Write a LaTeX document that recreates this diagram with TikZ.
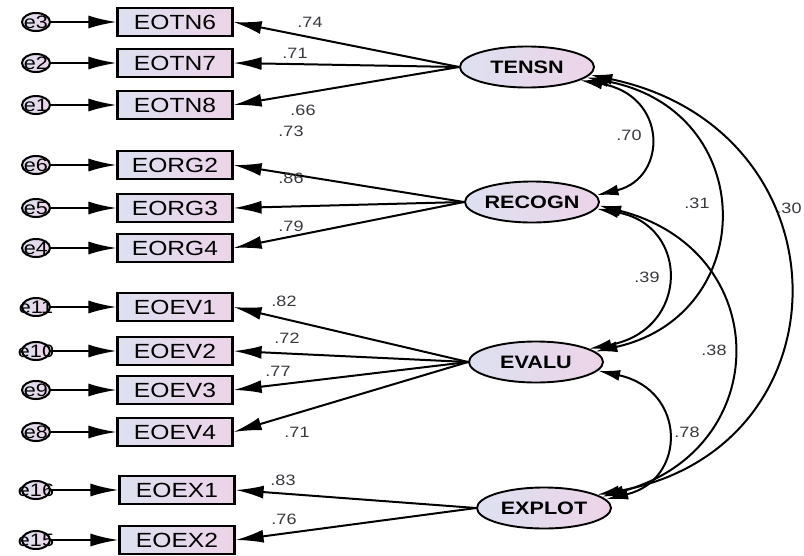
\documentclass[tikz,border=0pt]{standalone}
\usepackage{fontspec}
\setmainfont{Liberation Sans}[FakeStretch=1.2]
\usetikzlibrary{arrows.meta,shapes.geometric}
\definecolor{boxL}{HTML}{DDE1F0}
\definecolor{boxR}{HTML}{EDD3E8}
\definecolor{labc}{HTML}{38383F}
\begin{document}
\begin{tikzpicture}[x=1pt,y=-1pt,
 obs/.style={draw,line width=2.2pt,minimum width=115pt,minimum height=28pt,inner sep=0pt,left color=boxL,right color=boxR,font=\fontsize{20.5}{20}\selectfont},
 lat/.style={ellipse,draw,line width=1.9pt,minimum width=134pt,minimum height=41pt,inner sep=0pt,left color=boxL,right color=boxR,font=\fontsize{18}{18}\selectfont\bfseries},
 err/.style={ellipse,draw,line width=2pt,minimum width=28pt,minimum height=18pt,inner sep=0pt,left color=boxL,right color=boxR,font=\fontsize{18}{18}\selectfont},
 arr/.style={line width=2pt,-{Latex[length=28pt,width=13pt]}},
 cov/.style={line width=2pt,{Latex[length=22pt,width=11pt]}-{Latex[length=22pt,width=11pt]}},
 lab/.style={font=\fontsize{15}{15}\selectfont,text=labc,inner sep=0pt}
]
\useasboundingbox (0,0) rectangle (804,555);
% observed
\node[obs] (EOTN6) at (175,22) {EOTN6};
\node[obs] (EOTN7) at (175,63) {EOTN7};
\node[obs] (EOTN8) at (175,105) {EOTN8};
\node[obs] (EORG2) at (175,165) {EORG2};
\node[obs] (EORG3) at (175,208) {EORG3};
\node[obs] (EORG4) at (175,248) {EORG4};
\node[obs] (EOEV1) at (175,307) {EOEV1};
\node[obs] (EOEV2) at (175,351) {EOEV2};
\node[obs] (EOEV3) at (175,390) {EOEV3};
\node[obs] (EOEV4) at (175,432) {EOEV4};
\node[obs] (EOEX1) at (177,490) {EOEX1};
\node[obs] (EOEX2) at (177,540) {EOEX2};
% errors
\node[err] (e3) at (36,22) {\makebox[0pt]{e3}};
\node[err] (e2) at (36,63) {\makebox[0pt]{e2}};
\node[err] (e1) at (36,105) {\makebox[0pt]{e1}};
\node[err] (e6) at (36,165) {\makebox[0pt]{e6}};
\node[err] (e5) at (36,208) {\makebox[0pt]{e5}};
\node[err] (e4) at (36,248) {\makebox[0pt]{e4}};
\node[err] (e11) at (36,307) {\makebox[0pt]{e11}};
\node[err] (e10) at (36,351) {\makebox[0pt]{e10}};
\node[err] (e9) at (36,390) {\makebox[0pt]{e9}};
\node[err] (e8) at (36,432) {\makebox[0pt]{e8}};
\node[err] (e16) at (36,490) {\makebox[0pt]{e16}};
\node[err] (e15) at (36,540) {\makebox[0pt]{e15}};
\foreach \e/\b in {e3/EOTN6,e2/EOTN7,e1/EOTN8,e6/EORG2,e5/EORG3,e4/EORG4,e11/EOEV1,e10/EOEV2,e9/EOEV3,e8/EOEV4,e16/EOEX1,e15/EOEX2}
  \draw[arr] (\e) -- (\b.west);
% latent
\node[lat] (TENSN) at (527,67) {TENSN};
\node[lat] (RECOGN) at (532,202) {RECOGN};
\node[lat] (EVALU) at (536,362) {EVALU};
\node[lat] (EXPLOT) at (544,508) {EXPLOT};
% loadings
\foreach \b in {EOTN6,EOTN7,EOTN8} \draw[arr] (TENSN.west) -- (\b.east);
\foreach \b in {EORG2,EORG3,EORG4} \draw[arr] (RECOGN.west) -- (\b.east);
\foreach \b in {EOEV1,EOEV2,EOEV3,EOEV4} \draw[arr] (EVALU.west) -- (\b.east);
\foreach \b in {EOEX1,EOEX2} \draw[arr] (EXPLOT.west) -- (\b.east);
\node[lab] (l1) at (310,22) {.74};
\node[lab] (l2) at (295,53) {.71};
\node[lab] (l3) at (303,110) {.66};
\node[lab] (l4) at (291,131) {.73};
\node[lab] (l5) at (291,178) {.86};
\node[lab] (l6) at (291,226) {.79};
\node[lab] (l7) at (284,301) {.82};
\node[lab] (l8) at (287,338) {.72};
\node[lab] (l9) at (278,371) {.77};
\node[lab] (l10) at (297,432) {.71};
\node[lab] (l11) at (283,480) {.83};
\node[lab] (l12) at (284,519) {.76};
% covariances
\draw[cov] (TENSN.-14) .. controls (668,95) and (668,178) .. (RECOGN.6);
\draw[cov] (TENSN.-10) .. controls (760,110) and (760,315) .. (EVALU.10);
\draw[cov] (TENSN.-7) .. controls (852,130) and (852,450) .. (EXPLOT.14);
\draw[cov] (RECOGN.-6) .. controls (690,225) and (690,330) .. (EVALU.14);
\draw[cov] (RECOGN.-3) .. controls (775,250) and (775,450) .. (EXPLOT.11);
\draw[cov] (EVALU.-8) .. controls (687,390) and (687,480) .. (EXPLOT.8);
\node[lab] (c1) at (629,135) {.70};
\node[lab] (c2) at (697,203) {.31};
\node[lab] (c3) at (789,208) {.30};
\node[lab] (c4) at (647,277) {.39};
\node[lab] (c5) at (714,350) {.38};
\node[lab] (c6) at (687,432) {.78};
\end{tikzpicture}
\end{document}
